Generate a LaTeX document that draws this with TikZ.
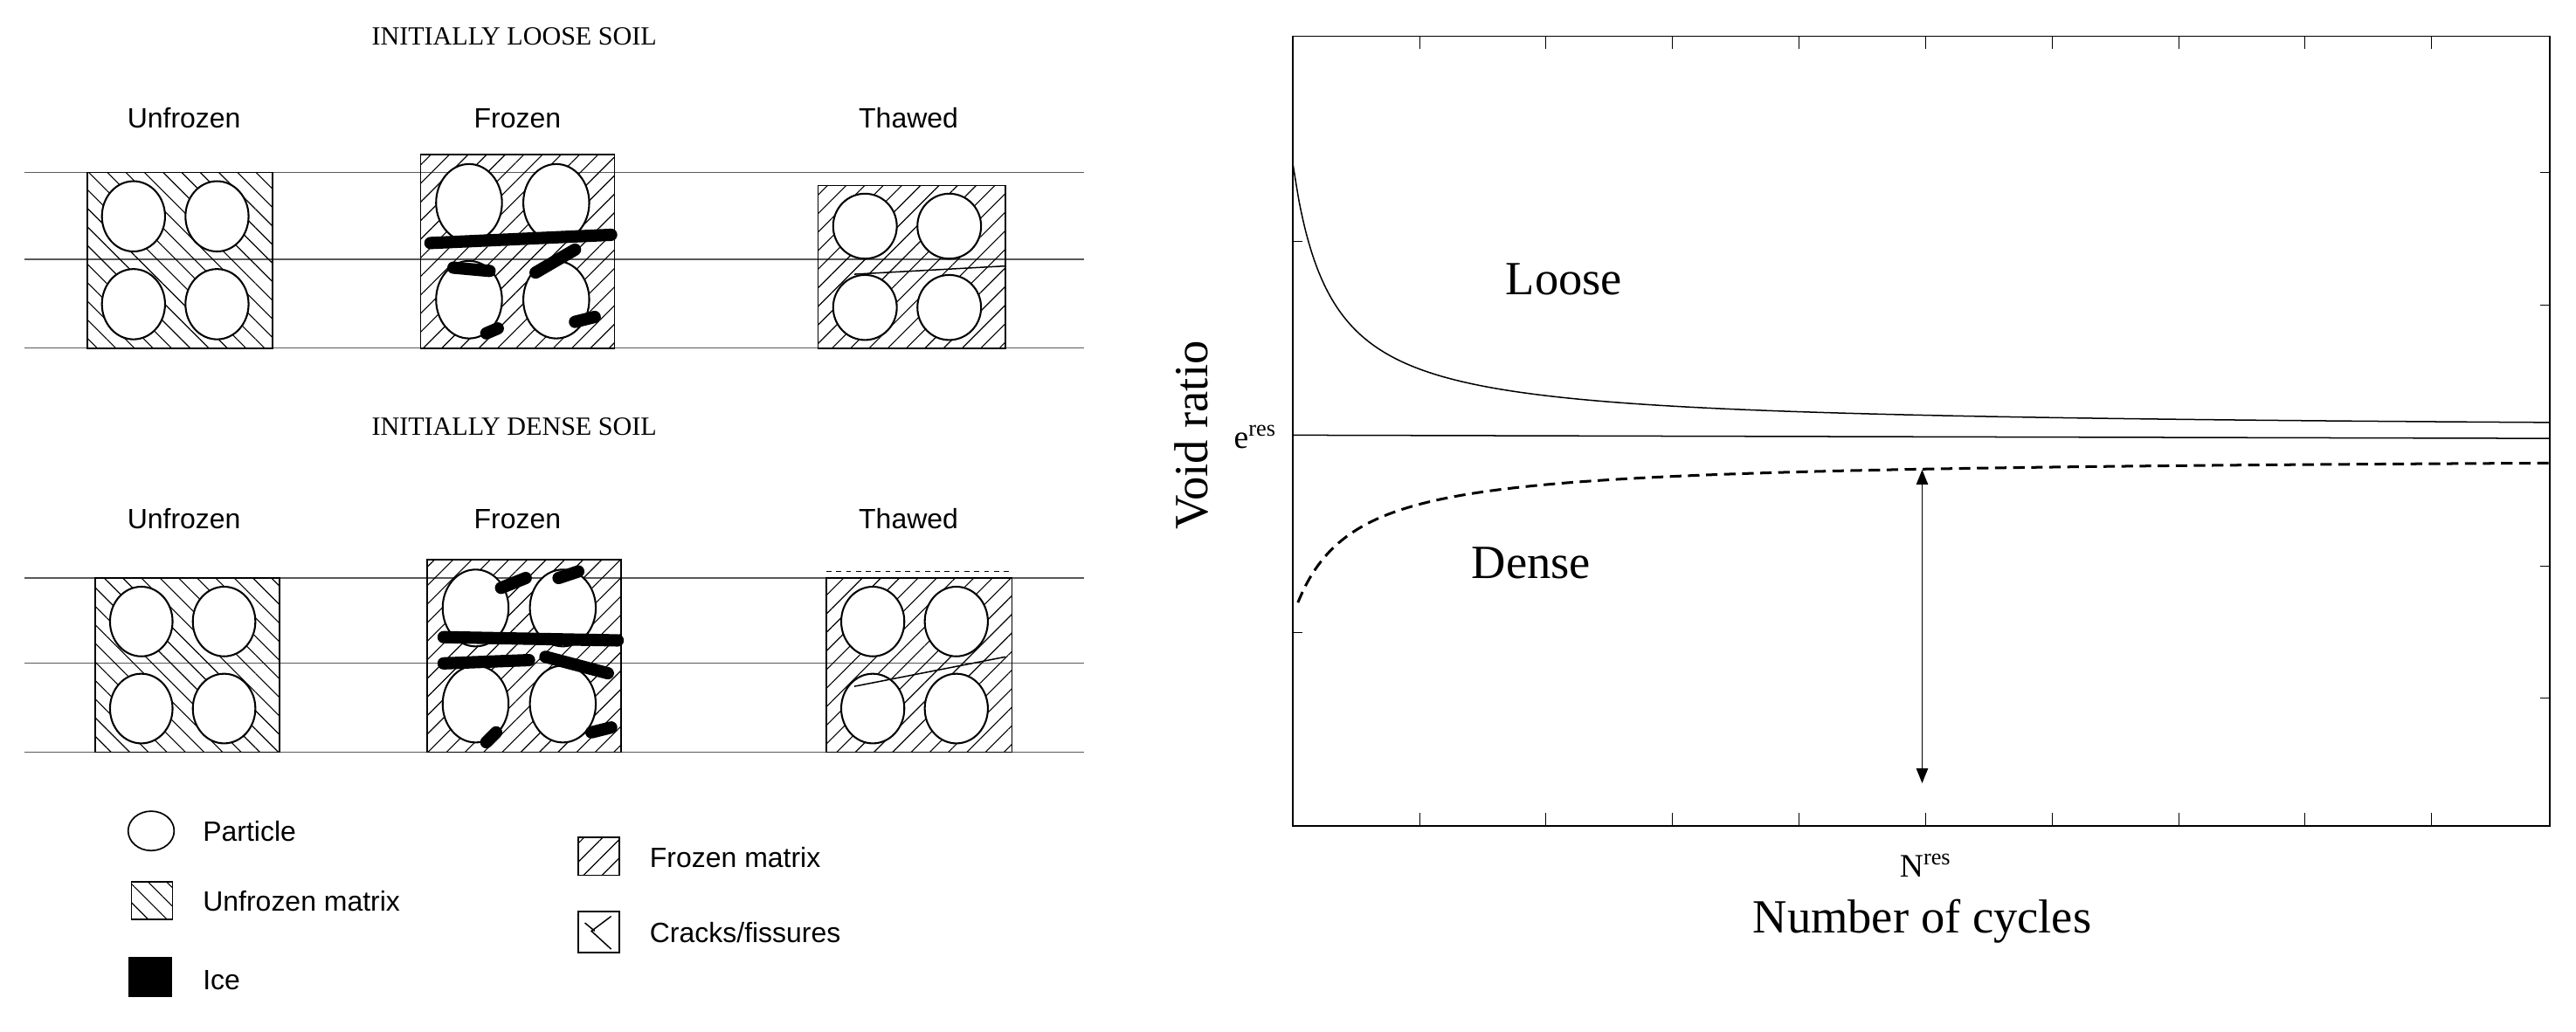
\documentclass[tikz,border=0pt]{standalone}
\usepackage{fontspec}
\setmainfont{Liberation Serif}
\newfontfamily\lsans{Liberation Sans}
\usetikzlibrary{patterns.meta,arrows.meta}
\tikzset{
 unfz/.style={pattern={Lines[angle=-45,distance=8pt,line width=0.6pt]}},
 frz/.style={pattern={Lines[angle=45,distance=8pt,line width=0.6pt]}},
 part/.style={draw,line width=1.1pt,fill=white},
 ice/.style={line width=7.5pt,line cap=round},
 lvl/.style={line width=0.7pt,gray!70!black},
 lab/.style={font=\lsans\fontsize{17}{19}\selectfont},
 ttl/.style={font=\fontsize{16}{18}\selectfont},
 big/.style={font=\fontsize{29}{32}\selectfont},
}
\newcommand\soilcell[5]{% x1 y1 x2 y2 style
 \path[#5] (#1,#2) rectangle (#3,#4);
 \draw[line width=0.9pt] (#1,#2) rectangle (#3,#4);
 \pgfmathsetmacro\wa{#3-#1}\pgfmathsetmacro\ha{#4-#2}
 \foreach \fx/\fy in {0.25/0.25,0.7/0.25,0.25/0.75,0.7/0.75}{
  \draw[part] ({#1+\fx*\wa},{#2+\fy*\ha}) ellipse ({0.17*\wa} and {0.2*\ha});}
}
\begin{document}
\begin{tikzpicture}[x=1pt,y=-1pt]
\useasboundingbox[fill=white] (0,0) rectangle (1568,628);
\node[ttl] (t1) at (313,22) {INITIALLY LOOSE SOIL};
\node[ttl] (t2) at (313,260) {INITIALLY DENSE SOIL};
\foreach \yy/\n in {72/a,316/b}{
 \node[lab] (uf\n) at (112,\yy) {Unfrozen};
 \node[lab] (fz\n) at (315,\yy) {Frozen};
 \node[lab] (th\n) at (553,\yy) {Thawed};}
\foreach \yy in {105,158,212,352,404,458} \draw[lvl] (15,\yy) -- (660,\yy);
% loose row
\soilcell{53}{105}{166}{212}{unfz}
\soilcell{256}{94}{374}{212}{frz}
\soilcell{498}{113}{612}{212}{frz}
\draw[ice] (262,148) -- (372,143);
\draw[ice] (276,163) -- (298,165);
\draw[ice] (326,166) -- (350,152);
\draw[ice] (296,203) -- (303,200);
\draw[ice] (350,196) -- (362,193);
\draw[line width=0.8pt] (520,167) -- (612,162);
% dense row
\soilcell{58}{352}{170}{458}{unfz}
\soilcell{260}{341}{378}{458}{frz}
\soilcell{503}{352}{616}{458}{frz}
\draw[dashed,line width=0.8pt] (503,348) -- (616,348);
\draw[ice] (270,388) -- (376,390);
\draw[ice] (270,404) -- (322,402);
\draw[ice] (332,400) -- (370,410);
\draw[ice] (305,358) -- (320,352);
\draw[ice] (340,352) -- (352,348);
\draw[ice] (296,452) -- (302,446);
\draw[ice] (360,446) -- (372,443);
\draw[line width=0.8pt] (520,418) -- (612,400);
% legend
\draw[part,line width=0.9pt] (92,506) ellipse (14 and 12);
\node[lab,anchor=west] (lp) at (120,506) {Particle};
\path[unfz] (80,537) rectangle (105,560); \draw[line width=0.8pt] (80,537) rectangle (105,560);
\node[lab,anchor=west] (lu) at (120,549) {Unfrozen matrix};
\fill (78,583) rectangle (105,607);
\node[lab,anchor=west] (li) at (120,597) {Ice};
\path[frz] (352,510) rectangle (377,533); \draw[line width=0.8pt] (352,510) rectangle (377,533);
\node[lab,anchor=west] (lf) at (392,522) {Frozen matrix};
\draw[line width=0.8pt] (352,555) rectangle (377,580);
\draw[line width=0.8pt] (372,558) -- (360,567) -- (372,578);
\draw[line width=0.8pt] (356,562) -- (362,567);
\node[lab,anchor=west] (lc) at (392,568) {Cracks/fissures};
% plot
\draw[line width=0.9pt] (787,22) rectangle (1552,503);
\foreach \i in {1,...,9}{
 \draw (787+\i*77,22) -- ++(0,8);
 \draw (787+\i*77,503) -- ++(0,-8);}
\foreach \yy in {147,385} \draw (787,\yy) -- ++(6,0);
\foreach \yy in {105,186,345,425} \draw (1552,\yy) -- ++(-6,0);
\draw[line width=0.8pt] (787,265) -- (1552,267);
\draw[line width=0.8pt] plot[domain=0:765,samples=200,smooth] ({787+\x},{262-162*23/(23+\x)});
\draw[line width=1.6pt,dash pattern=on 7pt off 4pt] plot[domain=3:765,samples=200,smooth] ({787+\x},{278+97*33/(33+\x)});
\coordinate (aT) at (1170,286);
\coordinate (aB) at (1170,477);
\draw[{Triangle[length=9pt,width=7pt]}-{Triangle[length=9pt,width=7pt]},line width=0.8pt] (aT) -- (aB);
\node[big] (lo) at (952,170) {Loose};
\node[big] (de) at (932,343) {Dense};
\node[big,rotate=90] (vr) at (725,265) {Void ratio};
\node[font=\fontsize{20}{22}\selectfont] (er) at (764,266) {e\textsuperscript{res}};
\node[font=\fontsize{20}{22}\selectfont] (nr) at (1172,527) {N\textsuperscript{res}};
\node[big] (nc) at (1170,561) {Number of cycles};
\end{tikzpicture}
\end{document}
